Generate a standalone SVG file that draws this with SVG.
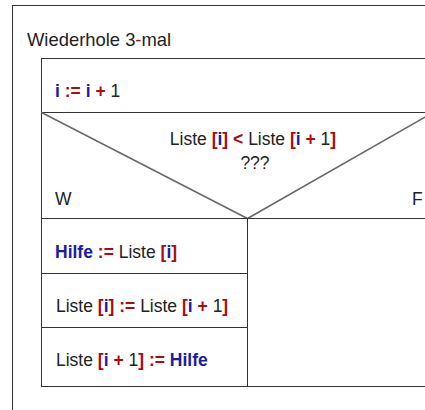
<svg xmlns="http://www.w3.org/2000/svg" width="425" height="410" viewBox="0 0 425 410">
<style>
text{font-family:"Liberation Sans",Arial,sans-serif;font-size:17.5px;fill:#222}
.t{font-size:18.4px}
.v{fill:#1c1ca0;font-weight:bold}
.o{fill:#a80c0c;font-weight:bold}
.box{fill:#fff;stroke:#333;stroke-width:1}
.dg{stroke:#6a6a6a;stroke-width:1.6;fill:none}
</style>
<rect width="425" height="410" fill="#fff"/>
<g id="loop">
<rect class="box" x="12.5" y="5.5" width="460" height="460"/>
<text class="t" x="27" y="46">Wiederhole 3<tspan fill="#a80c0c">-</tspan>mal</text>
</g>
<g id="stmt-inc">
<rect class="box" x="41.5" y="58.5" width="420" height="54"/>
<text x="55" y="96.5"><tspan class="v">i</tspan><tspan class="o"> := </tspan><tspan class="v">i</tspan><tspan class="o"> + </tspan>1</text>
</g>
<g id="cond">
<rect class="box" x="41.5" y="112.5" width="420" height="106"/>
<text x="253" y="145" text-anchor="middle">Liste <tspan class="o">[</tspan><tspan class="v">i</tspan><tspan class="o">] &lt; </tspan>Liste <tspan class="o">[</tspan><tspan class="v">i</tspan><tspan class="o"> + </tspan>1<tspan class="o">]</tspan></text>
<text x="255" y="169" text-anchor="middle">???</text>
<text x="55" y="205">W</text>
<text x="412" y="205">F</text>
</g>
<g id="connectors">
<path class="dg" d="M41.5 112.5 L247.5 218.5 L433 112.5"/>
</g>
<g id="stmt-hilfe">
<rect class="box" x="41.5" y="218.5" width="206" height="55"/>
<text x="55" y="257.5"><tspan class="v">Hilfe</tspan><tspan class="o"> := </tspan>Liste <tspan class="o">[</tspan><tspan class="v">i</tspan><tspan class="o">]</tspan></text>
</g>
<g id="stmt-swap1">
<rect class="box" x="41.5" y="273.5" width="206" height="54"/>
<text x="56" y="311.5">Liste <tspan class="o">[</tspan><tspan class="v">i</tspan><tspan class="o">] := </tspan>Liste <tspan class="o">[</tspan><tspan class="v">i</tspan><tspan class="o"> + </tspan>1<tspan class="o">]</tspan></text>
</g>
<g id="stmt-swap2">
<rect class="box" x="41.5" y="327.5" width="206" height="59"/>
<text x="56" y="365.5">Liste <tspan class="o">[</tspan><tspan class="v">i</tspan><tspan class="o"> + </tspan>1<tspan class="o">] := </tspan><tspan class="v">Hilfe</tspan></text>
</g>
<g id="else-empty">
<rect class="box" x="247.5" y="218.5" width="214" height="168"/>
</g>
</svg>
